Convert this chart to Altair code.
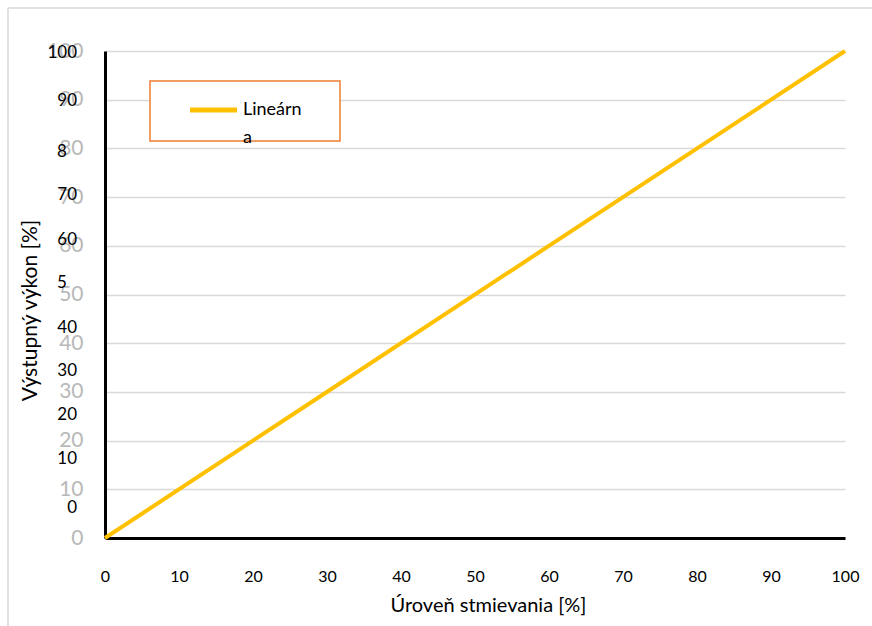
import altair as alt
import pandas as pd

# ---- data ----
dim_level = [0, 25, 85, 100]          # Úroveň stmievania [%]
output_power = [0, 25, 85, 100]       # Výstupný výkon [%]
axis_ticks = [0, 10, 20, 30, 40, 50, 60, 70, 80, 90, 100]

# overlapping (misplaced) black y labels as they appear in the reference
black_labels = ["100", "90", "8", "70", "60", "5", "40", "30", "20", "10", "0"]
black_label_pos = [99.6, 89.7, 79.3, 70.4, 61.2, 52.4, 43.1, 34.3, 25.3, 16.2, 6.2]

legend_label_lines = ["Lineárn", "a"]
series_name = "Lineárna"

FONT = "Lato"
LINE_COLOR = "#FFC000"

W, H = 740, 487

line_df = pd.DataFrame({"x": dim_level, "y": output_power})
lab_df = pd.DataFrame({"label": black_labels, "y": black_label_pos})

x_scale = alt.Scale(domain=[0, 100], nice=False)
y_scale = alt.Scale(domain=[0, 100], nice=False)

base = alt.Chart(line_df)

line = base.mark_line(color=LINE_COLOR, strokeWidth=4, clip=False).encode(
    x=alt.X("x:Q", scale=x_scale,
            axis=alt.Axis(values=axis_ticks, title="Úroveň stmievania [%]",
                          grid=False, domainColor="black", domainWidth=3,
                          ticks=False, labelPadding=30, labelFontSize=16,
                          labelColor="black", labelFont=FONT,
                          titleFont=FONT, titleFontSize=20, titleFontWeight="normal",
                          titleColor="black", titlePadding=11, labelFlush=False,
                          titleX=W / 2 + 13)),
    y=alt.Y("y:Q", scale=y_scale,
            axis=alt.Axis(values=axis_ticks, title="Výstupný výkon [%]",
                          grid=True, gridColor="#d9d9d9", gridWidth=1.5,
                          domainColor="black", domainWidth=3,
                          ticks=False, labelPadding=22, labelFontSize=21,
                          labelColor="#b8b8b8", labelFont=FONT, labelFlush=False,
                          titleFont=FONT, titleFontSize=21, titleFontWeight="normal",
                          titleColor="black", titleX=-75, titleY=259,
                          titleBaseline="middle", titleAngle=-90)),
)

txt_full = alt.Chart(lab_df).transform_filter(
    "length(datum.label) > 1 || datum.label == '0'"
).mark_text(align="right", baseline="middle", font=FONT, fontSize=17,
            color="black", clip=False).encode(
    x=alt.value(-28), y=alt.Y("y:Q", scale=y_scale), text="label:N")

txt_trunc = alt.Chart(lab_df).transform_filter(
    "length(datum.label) == 1 && datum.label != '0'"
).mark_text(align="left", baseline="middle", font=FONT, fontSize=17,
            color="black", clip=False).encode(
    x=alt.value(-48), y=alt.Y("y:Q", scale=y_scale), text="label:N")

# outer chart border (top and left edges visible)
border_top = alt.Chart(pd.DataFrame({"k": [0]})).mark_rule(
    color="#d9d9d9", strokeWidth=1.5).encode(
    x=alt.value(-97), x2=alt.value(767), y=alt.value(-43))
border_left = alt.Chart(pd.DataFrame({"k": [0]})).mark_rule(
    color="#d9d9d9", strokeWidth=1.5).encode(
    x=alt.value(-97), y=alt.value(-43), y2=alt.value(575))

# legend box
leg_box = alt.Chart(pd.DataFrame({"k": [0]})).mark_rect(
    fill="white", stroke="#ED7D31", strokeWidth=1.5).encode(
    x=alt.value(45), x2=alt.value(235), y=alt.value(30), y2=alt.value(90))
leg_line = alt.Chart(pd.DataFrame({"k": [series_name]})).mark_rule(
    color=LINE_COLOR, strokeWidth=5).encode(
    x=alt.value(85), x2=alt.value(132), y=alt.value(59))
leg_t1 = alt.Chart(pd.DataFrame({"t": [legend_label_lines[0]]})).mark_text(
    align="left", baseline="middle", font=FONT, fontSize=18, color="black").encode(
    x=alt.value(138), y=alt.value(59), text="t:N")
leg_t2 = alt.Chart(pd.DataFrame({"t": [legend_label_lines[1]]})).mark_text(
    align="left", baseline="middle", font=FONT, fontSize=18, color="black").encode(
    x=alt.value(138), y=alt.value(87), text="t:N")

chart = alt.layer(
    border_top, border_left, line, txt_full, txt_trunc,
    leg_box, leg_line, leg_t1, leg_t2
).properties(
    width=W, height=H,
    autosize=alt.AutoSizeParams(type="none"),
    padding={"left": 105, "top": 51, "right": 27, "bottom": 88},
    background="white",
).configure_view(stroke=None)

chart.save("out.html", embed_options={"renderer": "svg", "actions": False})
